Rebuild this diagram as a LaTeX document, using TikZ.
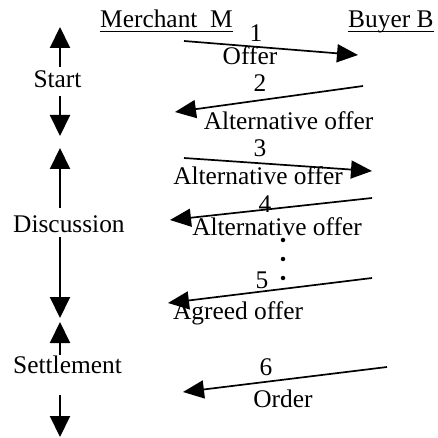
\documentclass[tikz,border=0pt]{standalone}
\usepackage{fontspec}
\setmainfont{Liberation Serif}
\usetikzlibrary{arrows.meta}
\begin{document}
\begin{tikzpicture}[x=1pt,y=-1pt,
  txt/.style={inner sep=0pt, font=\fontsize{25.4}{30}\selectfont},
  phase/.style={line width=2pt, -{Triangle[length=21pt,width=20pt]}},
  msg/.style={line width=1.7pt, -{Triangle[length=21pt,width=18pt]}},
  uline/.style={line width=1pt},
  dot/.style={circle, fill, inner sep=0pt, minimum size=4.5pt}]
\useasboundingbox (0,0) rectangle (438,438);

% column headings
\node[txt, anchor=base west] (merchant) at (100,28) {Merchant\ \ M};
\node[txt, anchor=base west] (buyer) at (348,28) {Buyer B};
\draw[uline] ([yshift=-4pt]merchant.base west) -- ([yshift=-4pt]merchant.base east);
\draw[uline] ([yshift=-4pt]buyer.base west) -- ([yshift=-4pt]buyer.base east);

% phases on the left
\node[txt, anchor=base] (start) at (57.5,88) {Start};
\node[txt, anchor=base west] (disc) at (13,232) {Discussion};
\node[txt, anchor=base west] (settle) at (13,373) {Settlement};

\coordinate (s1a) at (60,67);  \coordinate (s1b) at (60,27);
\coordinate (s2a) at (60,96);  \coordinate (s2b) at (60,136);
\coordinate (d1a) at (60,208); \coordinate (d1b) at (60,148);
\coordinate (d2a) at (60,237); \coordinate (d2b) at (60,318);
\coordinate (t1a) at (60,355); \coordinate (t1b) at (60,322);
\coordinate (t2a) at (60,395); \coordinate (t2b) at (60,437);
\draw[phase] (s1a) -- (s1b);
\draw[phase] (s2a) -- (s2b);
\draw[phase] (d1a) -- (d1b);
\draw[phase] (d2a) -- (d2b);
\draw[phase] (t1a) -- (t1b);
\draw[phase] (t2a) -- (t2b);

% messages between merchant and buyer
\coordinate (m1a) at (184,41);  \coordinate (m1b) at (358,55);
\coordinate (m2a) at (363,86);  \coordinate (m2b) at (175,112);
\coordinate (m3a) at (184,158); \coordinate (m3b) at (372,171);
\coordinate (m4a) at (372,198); \coordinate (m4b) at (170,220);
\coordinate (m5a) at (372,278); \coordinate (m5b) at (168,303);
\coordinate (m6a) at (387,367); \coordinate (m6b) at (183,392);
\draw[msg] (m1a) -- (m1b);
\draw[msg] (m2a) -- (m2b);
\draw[msg] (m3a) -- (m3b);
\draw[msg] (m4a) -- (m4b);
\draw[msg] (m5a) -- (m5b);
\draw[msg] (m6a) -- (m6b);

% message numbers
\node[txt, anchor=base] (n1) at (256,42) {1};
\node[txt, anchor=base] (n2) at (260,92) {2};
\node[txt, anchor=base] (n3) at (260,157) {3};
\node[txt, anchor=base] (n4) at (265,212) {4};
\node[txt, anchor=base] (n5) at (262,288) {5};
\node[txt, anchor=base] (n6) at (266,375) {6};

% message contents
\node[txt, anchor=base] (l1) at (250,65) {Offer};
\node[txt, anchor=base] (l2) at (288.5,130) {Alternative offer};
\node[txt, anchor=base] (l3) at (258,185) {Alternative offer};
\node[txt, anchor=base] (l4) at (277,235) {Alternative offer};
\node[txt, anchor=base] (l5) at (238,319) {Agreed offer};
\node[txt, anchor=base] (l6) at (283,407) {Order};

% ellipsis
\node[dot] (e1) at (283,240) {};
\node[dot] (e2) at (283,259) {};
\node[dot] (e3) at (283,278) {};
\end{tikzpicture}
\end{document}
